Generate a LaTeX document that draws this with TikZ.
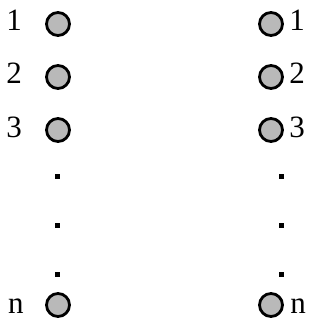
\documentclass[tikz,border=0pt]{standalone}
\usepackage{fontspec}
\setmainfont{Liberation Serif}
\begin{document}
\begin{tikzpicture}[x=1pt,y=-1pt,
  ball/.style={circle,draw=black,fill=gray!55,line width=2.8pt,minimum size=23pt,inner sep=0pt},
  lab/.style={inner sep=0pt,font=\fontsize{31}{33}\selectfont},
  dotm/.style={fill=black,inner sep=0pt,minimum size=5pt,rectangle}]
\useasboundingbox (0,0) rectangle (322,323);
\node[ball] (l1) at (58,24) {};
\node[ball] (l2) at (58,77) {};
\node[ball] (l3) at (58,130) {};
\node[ball] (ln) at (58,305) {};
\node[ball] (r1) at (271,24) {};
\node[ball] (r2) at (271,77) {};
\node[ball] (r3) at (271,130) {};
\node[ball] (rn) at (271,305) {};
\node[lab,anchor=base] (a1) at (14,31) {1};
\node[lab,anchor=base] (a2) at (14,84) {2};
\node[lab,anchor=base] (a3) at (14,137) {3};
\node[lab,anchor=base] (an) at (16,313) {n};
\node[lab,anchor=base] (b1) at (297,31) {1};
\node[lab,anchor=base] (b2) at (297,84) {2};
\node[lab,anchor=base] (b3) at (297,137) {3};
\node[lab,anchor=base] (bn) at (298,313) {n};
\node[dotm] (ld1) at (57,176) {};
\node[dotm] (ld2) at (57,225) {};
\node[dotm] (ld3) at (57,274) {};
\node[dotm] (rd1) at (281,176) {};
\node[dotm] (rd2) at (281,225) {};
\node[dotm] (rd3) at (281,274) {};
\end{tikzpicture}
\end{document}
